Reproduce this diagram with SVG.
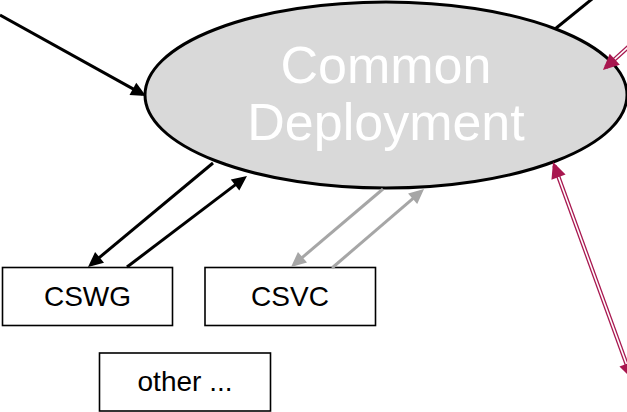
<svg xmlns="http://www.w3.org/2000/svg" width="627" height="412" viewBox="0 0 627 412">
  <style>
    .box { fill: #FFFFFF; stroke: #000000; stroke-width: 1.6; }
    .box-label { font-family: "Liberation Sans", Arial, sans-serif; font-size: 28px; fill: #000000; text-anchor: middle; }
    .hub { fill: #D9D9D9; stroke: #000000; stroke-width: 3; }
    .hub-label { font-family: "Liberation Sans", Arial, sans-serif; font-size: 52px; fill: #FFFFFF; text-anchor: middle; }
    .link-black { fill: none; stroke: #000000; stroke-width: 3; }
    .link-grey { fill: none; stroke: #A6A6A6; stroke-width: 3; }
    .link-red { fill: none; stroke: #A8174F; stroke-width: 4.2; }
    .link-red-gap { fill: none; stroke: #FFFFFF; stroke-width: 1.6; }
  </style>
  <defs>
    <marker id="head-black" markerUnits="userSpaceOnUse" markerWidth="16" markerHeight="14" refX="11" refY="7" orient="auto-start-reverse" overflow="visible">
      <path d="M0,0 L15,7 L0,14 Z" fill="#000000"/>
    </marker>
    <marker id="head-grey" markerUnits="userSpaceOnUse" markerWidth="16" markerHeight="14" refX="11" refY="7" orient="auto-start-reverse" overflow="visible">
      <path d="M0,0 L15,7 L0,14 Z" fill="#A6A6A6"/>
    </marker>
    <marker id="head-red" markerUnits="userSpaceOnUse" markerWidth="17" markerHeight="15" refX="12" refY="7.5" orient="auto-start-reverse" overflow="visible">
      <path d="M0,0 L16,7.5 L0,15 Z" fill="#A8174F"/>
    </marker>
  </defs>

  <!-- central node -->
  <g id="common-deployment">
    <ellipse class="hub" cx="386" cy="95" rx="241" ry="93"/>
    <text class="hub-label" x="386" y="83">Common</text>
    <text class="hub-label" x="386" y="140">Deployment</text>
  </g>

  <!-- leaf nodes -->
  <g id="cswg">
    <rect class="box" x="2.5" y="267.5" width="170" height="58"/>
    <text class="box-label" x="87.5" y="306">CSWG</text>
  </g>
  <g id="csvc">
    <rect class="box" x="205" y="267.5" width="170.5" height="58"/>
    <text class="box-label" x="290" y="306">CSVC</text>
  </g>
  <g id="other">
    <rect class="box" x="99.5" y="353" width="171" height="58"/>
    <text class="box-label" x="185" y="391">other ...</text>
  </g>

  <!-- connectors -->
  <g id="connectors">
    <path class="link-black" d="M0,15 L142.5,94.1" marker-end="url(#head-black)"/>
    <path class="link-black" d="M555,29 L597,-5"/>
    <path class="link-black" d="M213,163 L91.1,264.4" marker-end="url(#head-black)"/>
    <path class="link-black" d="M127,267 L243.8,178.4" marker-end="url(#head-black)"/>
    <path class="link-grey" d="M383,189 L294.1,264.4" marker-end="url(#head-grey)"/>
    <path class="link-grey" d="M332,268 L421,191.6" marker-end="url(#head-grey)"/>

    <path class="link-red" d="M640,36.2 L605.9,67.3" marker-end="url(#head-red)"/>
    <path class="link-red-gap" d="M641,35.3 L614.8,59.2"/>

    <path class="link-red" d="M554.4,165.8 L630.6,375.2" marker-start="url(#head-red)" marker-end="url(#head-red)"/>
    <path class="link-red-gap" d="M558.5,177 L626.5,364"/>
  </g>
</svg>
